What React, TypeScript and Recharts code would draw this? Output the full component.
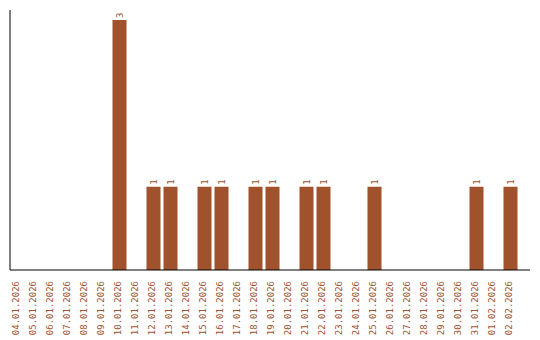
import { BarChart, Bar, XAxis, YAxis, LabelList } from 'recharts'

const dates = [
  '04.01.2026', '05.01.2026', '06.01.2026', '07.01.2026', '08.01.2026', '09.01.2026',
  '10.01.2026', '11.01.2026', '12.01.2026', '13.01.2026', '14.01.2026', '15.01.2026',
  '16.01.2026', '17.01.2026', '18.01.2026', '19.01.2026', '20.01.2026', '21.01.2026',
  '22.01.2026', '23.01.2026', '24.01.2026', '25.01.2026', '26.01.2026', '27.01.2026',
  '28.01.2026', '29.01.2026', '30.01.2026', '31.01.2026', '01.02.2026', '02.02.2026',
]
const counts = [0, 0, 0, 0, 0, 0, 3, 0, 1, 1, 0, 1, 1, 0, 1, 1, 0, 1, 1, 0, 0, 1, 0, 0, 0, 0, 0, 1, 0, 1]

const data = dates.map((date, i) => ({ date, count: counts[i] }))

const SIENNA = '#A0522D'
const FONT = '"DejaVu Sans Mono", monospace'

const DateTick = (props: any) => {
  const { x, y, payload } = props
  return (
    <g transform={`translate(${x + 1.5},${y + 3})`}>
      <text transform="rotate(-90)" textAnchor="end" fontSize={9} fontFamily={FONT} fill={SIENNA}>
        {payload.value}
      </text>
    </g>
  )
}

const CountLabel = (props: any) => {
  const { x, y, width, value } = props
  if (!value) return null
  return (
    <g transform={`translate(${x + width / 2 + 3},${y - 2})`}>
      <text transform="rotate(-90)" textAnchor="start" fontSize={9} fontFamily={FONT} fill={SIENNA}>
        {value}
      </text>
    </g>
  )
}

export default function App() {
  return (
    <div style={{ position: 'absolute', left: 0, top: 0 }}>
      <BarChart width={540} height={340} data={data} margin={{ top: 10, right: 10, bottom: 0, left: 9 }}>
        <XAxis
          dataKey="date"
          interval={0}
          height={70}
          tickLine={false}
          axisLine={{ stroke: '#000' }}
          padding={{ left: -1.5, right: 11.5 }}
          tick={<DateTick />}
        />
        <YAxis width={1} domain={[0, 3.12]} tick={false} tickLine={false} axisLine={{ stroke: '#000' }} />
        <Bar dataKey="count" fill={SIENNA} barSize={14} isAnimationActive={false}>
          <LabelList dataKey="count" content={<CountLabel />} />
        </Bar>
      </BarChart>
    </div>
  )
}
